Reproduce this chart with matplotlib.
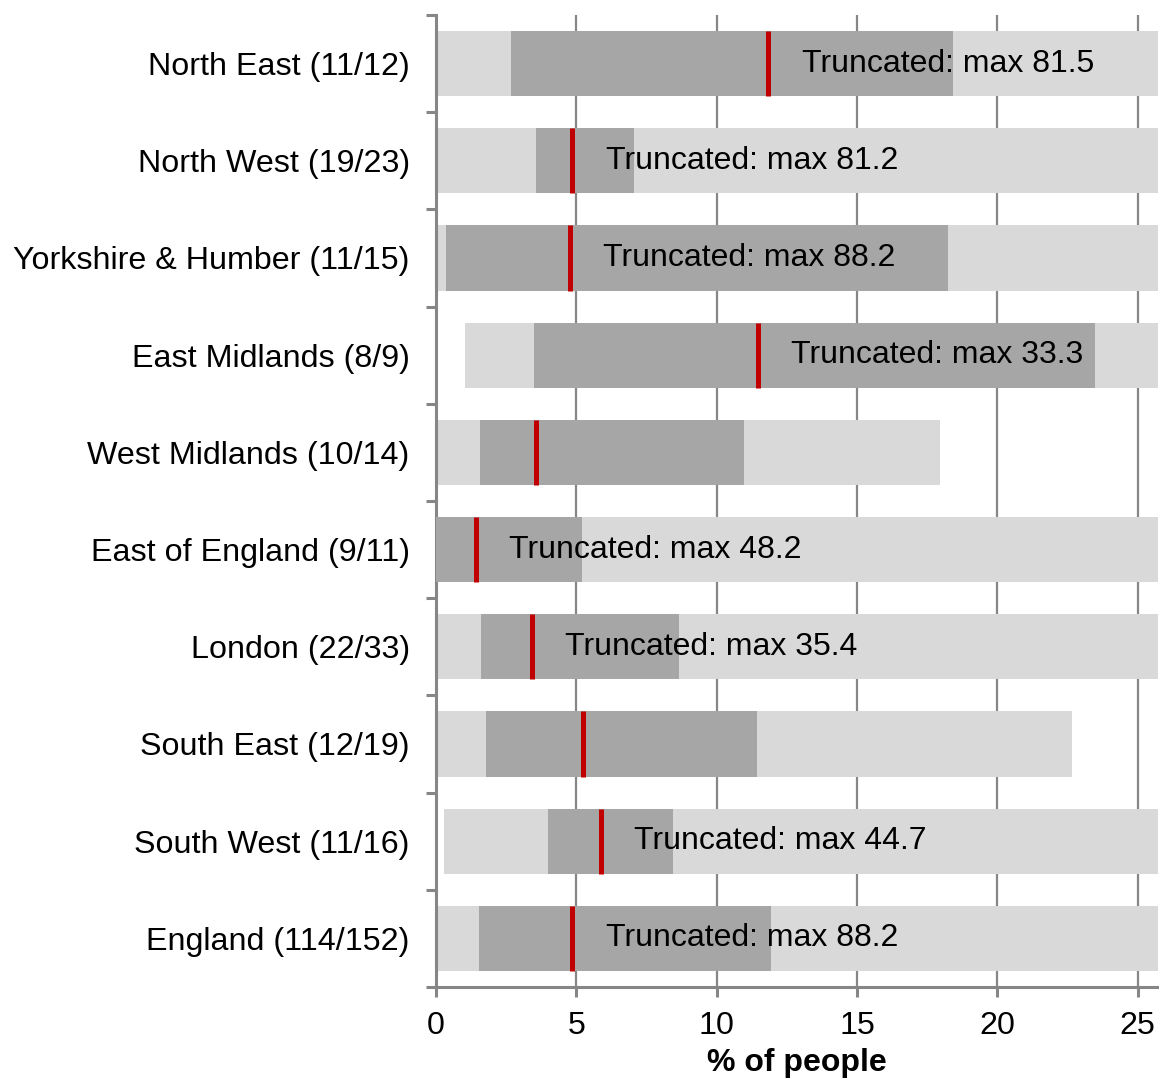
import matplotlib.pyplot as plt
import numpy as np

plt.rcParams['font.family'] = ['Liberation Sans', 'DejaVu Sans']

# Data (% of people)
regions = ['North East (11/12)', 'North West (19/23)', 'Yorkshire & Humber (11/15)',
           'East Midlands (8/9)', 'West Midlands (10/14)', 'East of England (9/11)',
           'London (22/33)', 'South East (12/19)', 'South West (11/16)', 'England (114/152)']
mins = [0.0, 0.0, 0.0, 1.05, 0.0, 0.0, 0.0, 0.0, 0.27, 0.0]
q1 = [2.66, 3.55, 0.37, 3.48, 1.55, 0.0, 1.62, 1.77, 3.98, 1.52]
medians = [11.84, 4.85, 4.76, 11.46, 3.55, 1.41, 3.41, 5.23, 5.87, 4.84]
q3 = [18.42, 7.04, 18.25, 23.5, 10.97, 5.19, 8.65, 11.44, 8.44, 11.94]
maxs = [81.5, 81.2, 88.2, 33.3, 17.97, 48.2, 35.4, 22.65, 44.7, 88.2]

xmax = 25.73
light = '#D9D9D9'
dark = '#A6A6A6'
red = '#C00000'
axis_grey = '#868686'

fig = plt.figure(figsize=(11.59, 10.86), dpi=100)
ax = fig.add_axes([0.3762, 0.0912, 0.623, 0.895])

y = np.arange(len(regions))
h = 0.67
mins_a, q1_a, med_a, q3_a, max_a = map(np.array, (mins, q1, medians, q3, maxs))

ax.barh(y, max_a - mins_a, left=mins_a, height=h, color=light, zorder=2)
ax.barh(y, q3_a - q1_a, left=q1_a, height=h, color=dark, zorder=3)
ax.vlines(med_a, y - h / 2, y + h / 2, color=red, linewidth=3.6, zorder=4)

# labels for bars cut off by the axis
for i in range(len(regions)):
    if maxs[i] > xmax:
        ax.text(medians[i] + 1.2, y[i], f'Truncated: max {maxs[i]}',
                va='center', ha='left', fontsize=23, zorder=5)

ax.set_xlim(0, xmax)
ax.set_ylim(len(regions) - 0.5, -0.5)
ax.set_xticks([0, 5, 10, 15, 20, 25])
ax.set_yticks(y)
ax.set_yticklabels(regions)
ax.set_yticks(np.arange(len(regions) + 1) - 0.5, minor=True)

ax.grid(axis='x', color=axis_grey, linewidth=1.6, zorder=1)
ax.set_axisbelow(True)

for side in ['top', 'right']:
    ax.spines[side].set_visible(False)
for side in ['left', 'bottom']:
    ax.spines[side].set_color(axis_grey)
    ax.spines[side].set_linewidth(2.2)

ax.tick_params(axis='y', which='major', length=0, pad=19, labelsize=23.2)
ax.tick_params(axis='y', which='minor', length=7.5, width=2.2, color=axis_grey)
ax.tick_params(axis='x', length=7.5, width=2.2, color=axis_grey, pad=10, labelsize=23.2)

ax.set_xlabel('% of people', fontsize=23, fontweight='bold', labelpad=5)

fig.savefig('out.png', dpi=100)
